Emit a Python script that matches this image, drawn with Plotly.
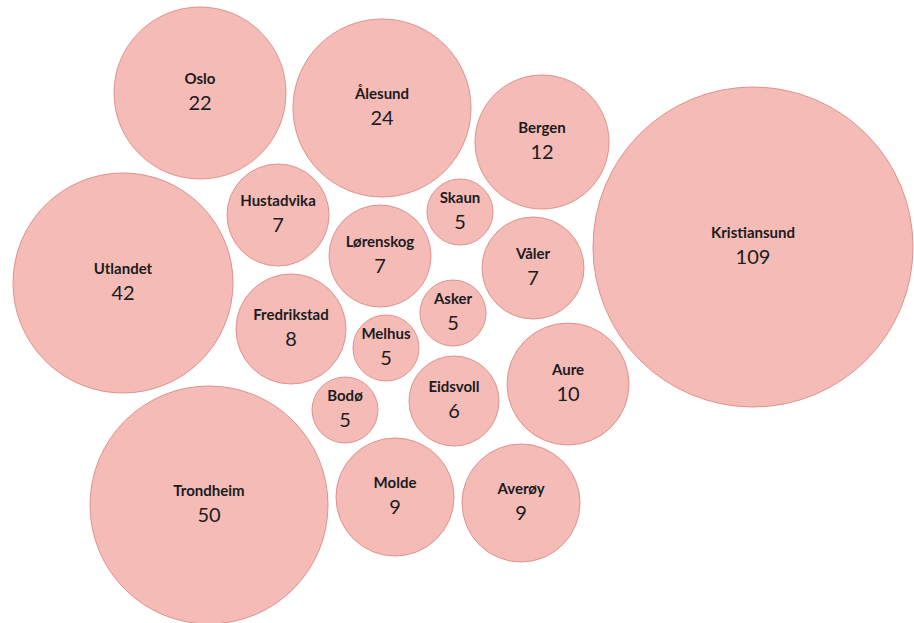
import plotly.graph_objects as go

# Municipalities and counts
names = ["Oslo", "Ålesund", "Bergen", "Kristiansund", "Utlandet", "Hustadvika",
         "Skaun", "Lørenskog", "Våler", "Fredrikstad", "Asker", "Melhus",
         "Aure", "Bodø", "Eidsvoll", "Trondheim", "Molde", "Averøy"]
values = [22, 24, 12, 109, 42, 7, 5, 7, 7, 8, 5, 5, 10, 5, 6, 50, 9, 9]

# Packed-bubble layout (pixel coordinates on a 914x623 canvas) and bubble radii
cx = [200, 382, 542, 753, 123, 278, 460, 380, 533, 291, 453, 386, 568, 345, 454, 209, 395, 521]
cy = [93, 108, 142, 247, 283, 215, 212, 256, 268, 329, 313, 348, 384, 410, 401, 505, 497, 503]
radius = [86, 89, 67, 160, 110, 51, 33, 51, 51, 55, 33, 33, 61, 33, 45, 119, 59, 59]

W, H = 914, 623
FILL = "#F4BBB7"
EDGE = "#E0928C"
INK = "#1c1c1c"

fig = go.Figure()

fig.add_trace(go.Scatter(
    x=cx, y=cy, mode="markers",
    marker=dict(size=[2 * r for r in radius], sizemode="diameter",
                color=FILL, opacity=1, line=dict(color=EDGE, width=1)),
    hoverinfo="skip", showlegend=False,
))

fig.add_trace(go.Scatter(
    x=cx, y=[y - 13 for y in cy], mode="text",
    text=[f"<b>{n}</b>" for n in names],
    textposition="middle center",
    textfont=dict(family="Lato", size=15, color=INK),
    hoverinfo="skip", showlegend=False,
))

fig.add_trace(go.Scatter(
    x=cx, y=[y + 12 for y in cy], mode="text",
    text=[str(v) for v in values],
    textposition="middle center",
    textfont=dict(family="Lato", size=20, color=INK),
    hoverinfo="skip", showlegend=False,
))

fig.update_layout(
    width=W, height=H,
    margin=dict(l=0, r=0, t=0, b=0),
    paper_bgcolor="white", plot_bgcolor="white",
    xaxis=dict(range=[0, W], visible=False, fixedrange=True),
    yaxis=dict(range=[H, 0], visible=False, fixedrange=True),
)

fig.write_html("out.html", config={"displayModeBar": False})
